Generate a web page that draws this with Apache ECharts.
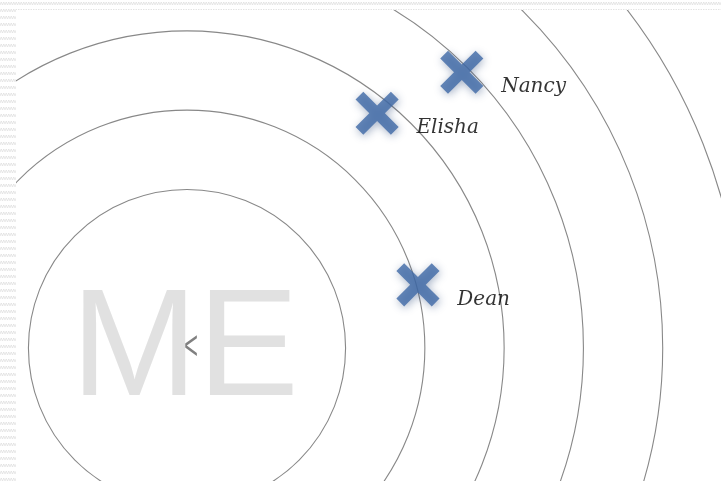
<!DOCTYPE html>
<html>
<head>
<meta charset="utf-8">
<script src="https://cdn.jsdelivr.net/npm/echarts@6/dist/echarts.min.js"></script>
<style>
html,body{margin:0;padding:0;width:721px;height:481px;overflow:hidden;background:#fff;}
#bg{position:absolute;left:0;top:0;width:721px;height:481px;
  background-image:url("data:image/svg+xml;utf8,<svg xmlns='http://www.w3.org/2000/svg' width='5' height='7'><polyline points='0,5 1.25,2 2.5,5 3.75,2 5,5' fill='none' stroke='%23e0e0e0' stroke-width='0.8'/></svg>");
  background-repeat:repeat;}
#chart{position:absolute;left:16px;top:10px;width:705px;height:471px;background:#fff;}
</style>
</head>
<body>
<div id="bg"></div>
<div id="chart"></div>
<script>
// ---- data ----
const centerLabel = 'ME';
const names = ['Nancy', 'Elisha', 'Dean'];
const distances = [4.91, 3.81, 3.02];   // distance from "ME" (ring units)
const angles = [45.1, 51.0, 15.3];      // direction, degrees (counter-clockwise from east)
const ringLevels = [2, 3, 4, 5, 6, 7];  // drawn rings
const radiusMax = 7;

// ---- chart ----
const chart = echarts.init(document.getElementById('chart'), null, {renderer: 'canvas'});

const ringColors = [];
for (let v = 0; v <= radiusMax; v++) {
  ringColors.push(ringLevels.indexOf(v) >= 0 ? '#888888' : 'rgba(0,0,0,0)');
}

// X symbol = plus rotated 45°
const plusPath = 'path://M3.9,0 L6.1,0 L6.1,3.9 L10,3.9 L10,6.1 L6.1,6.1 L6.1,10 L3.9,10 L3.9,6.1 L0,6.1 L0,3.9 L3.9,3.9 Z';

chart.setOption({
  animation: false,
  backgroundColor: '#ffffff',
  polar: { center: [171, 338], radius: 555 },
  angleAxis: { type: 'value', min: 0, max: 360, startAngle: 0, clockwise: false, show: false },
  radiusAxis: {
    type: 'value', min: 0, max: radiusMax, interval: 1,
    axisLine: {show: false}, axisTick: {show: false}, axisLabel: {show: false},
    splitLine: {show: true, lineStyle: {color: ringColors, width: 1.1}}
  },
  series: [
    {
      type: 'scatter',
      coordinateSystem: 'polar',
      z: 1,
      silent: true,
      symbolSize: 1,
      itemStyle: {color: 'rgba(0,0,0,0)'},
      data: [[0, 0]],
      label: {
        show: true,
        position: 'inside',
        formatter: centerLabel,
        fontFamily: "'Liberation Sans Narrow', 'Liberation Sans', Arial, sans-serif",
        fontSize: 152,
        color: '#d9d9d9',
        offset: [-2, 5]
      }
    },
    {
      type: 'scatter',
      coordinateSystem: 'polar',
      z: 3,
      symbol: plusPath,
      symbolSize: 50,
      symbolRotate: 45,
      itemStyle: {
        color: '#3f69a6',
        shadowBlur: 8,
        shadowColor: 'rgba(40,70,120,0.5)',
        shadowOffsetX: 1,
        shadowOffsetY: 2
      },
      data: names.map((n, i) => ({name: n, value: [distances[i], angles[i]]})),
      label: {
        show: true,
        position: 'right',
        distance: 0,
        offset: [4, 15],
        formatter: '{b}',
        fontFamily: "'DejaVu Serif', serif",
        fontStyle: 'italic',
        fontSize: 20,
        color: '#000000'
      }
    }
  ],
  graphic: [
    {
      type: 'text',
      left: 168, top: 318,
      silent: true,
      scaleX: 0.6,
      style: {text: '<', fontSize: 40, fontFamily: "'Liberation Sans', sans-serif", fill: '#808080'}
    }
  ]
});
</script>
</body>
</html>
